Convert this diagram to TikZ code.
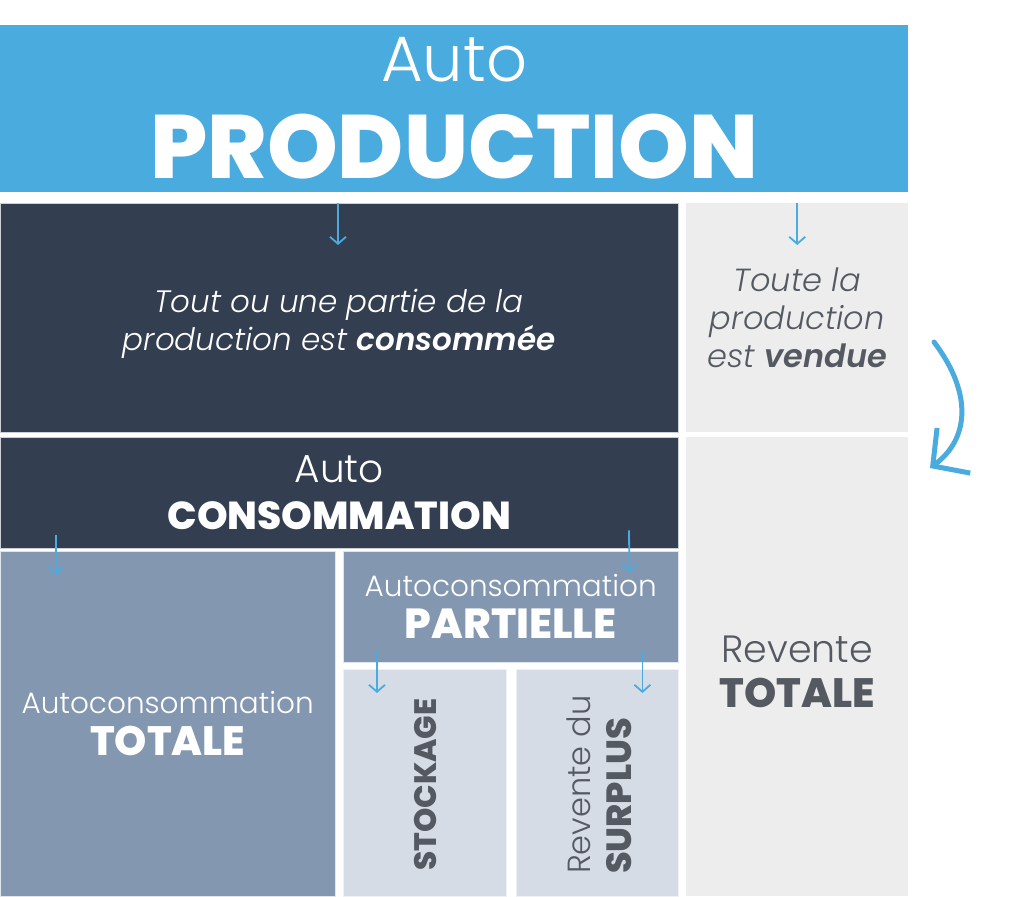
\documentclass[tikz,border=0pt]{standalone}
\usepackage{fontspec}
\setmainfont{Poppins}[UprightFont=* Light, ItalicFont=* Light Italic, BoldFont=* Bold, BoldItalicFont=* SemiBold Italic]
\newfontfamily\heavyfont{Poppins}[UprightFont=* ExtraBold]
\usepackage{tikz}
\usetikzlibrary{arrows.meta}
\usepackage{xcolor}
\definecolor{prodblue}{HTML}{4AABDF}
\definecolor{navy}{HTML}{333E50}
\definecolor{slate}{HTML}{8497B0}
\definecolor{paleslate}{HTML}{D6DCE5}
\definecolor{palegrey}{HTML}{EDEDED}
\definecolor{inkgrey}{HTML}{555961}

\begin{document}
\begin{tikzpicture}[
  x=1pt, y=-1pt,
  every node/.style={rectangle, inner sep=0pt, anchor=north west, align=center},
  bluebox/.style={fill=prodblue, text=white},
  navybox/.style={fill=navy, draw=white!75!navy, text=white},
  slatebox/.style={fill=slate, draw=white!75!slate, text=white},
  palebox/.style={fill=paleslate, draw=white!60!paleslate, text=inkgrey},
  greybox/.style={fill=palegrey, text=inkgrey},
  arrow/.style={-{Straight Barb[length=7pt, width=16pt]}, prodblue, line width=1.8pt},
  bigarrow/.style={-{Straight Barb[length=26pt, width=56pt]}, prodblue, line width=5pt, line cap=round}
]
\useasboundingbox (0,0) rectangle (1024,896);

% Top banner
\node[bluebox, minimum width=908pt, minimum height=167pt,
      font=\fontsize{64}{97}\selectfont] (prod) at (0,25)
  {Auto\\ \heavyfont\fontsize{90}{97}\selectfont PRODUCTION};

% Second row
\node[navybox, minimum width=678pt, minimum height=229pt,
      font=\fontsize{31}{38}\selectfont\itshape] (cons) at (0,203)
  {\rule{0pt}{36pt}Tout ou une partie de la\\ production est \textbf{consommée}};
\node[greybox, minimum width=222pt, minimum height=229pt,
      font=\fontsize{32}{38}\selectfont\itshape] (vend) at (686,203)
  {Toute la\\ production\\ est \textbf{vendue}};

% Third row
\node[navybox, minimum width=678pt, minimum height=111pt,
      font=\fontsize{39}{47}\selectfont] (autocons) at (0,437)
  {Auto\\ \heavyfont CONSOMMATION};
\node[greybox, minimum width=222pt, minimum height=459pt,
      font=\fontsize{38}{45}\selectfont] (revente) at (686,437)
  {\rule{0pt}{36pt}Revente\\ \heavyfont\fontsize{41}{45}\selectfont TOTALE};

% Fourth row
\node[slatebox, minimum width=335pt, minimum height=345pt,
      font=\fontsize{29.5}{42}\selectfont] (totale) at (0,551)
  {Autoconsommation\\ \heavyfont\fontsize{41}{42}\selectfont TOTALE};
\node[slatebox, minimum width=335pt, minimum height=111pt,
      font=\fontsize{29.5}{42}\selectfont] (partielle) at (343,551)
  {Autoconsommation\\ \heavyfont\fontsize{42}{42}\selectfont PARTIELLE};

% Bottom row
\node[palebox, minimum width=163pt, minimum height=227pt] (stockage) at (343,669) {};
\node[text=inkgrey, rotate=90, anchor=center, font=\heavyfont\fontsize{31}{31}\selectfont]
  (stocklabel) at ([xshift=1pt, yshift=-2pt]stockage.center) {STOCKAGE};
\node[palebox, minimum width=162pt, minimum height=227pt] (surplus) at (516,669) {};
\node[text=inkgrey, rotate=90, anchor=center, align=left, font=\fontsize{32}{41}\selectfont]
  (surpluslabel) at ([xshift=2pt, yshift=-2pt]surplus.center)
  {Revente du\\ \heavyfont\fontsize{35}{41}\selectfont SURPLUS};

% Small arrows
\draw[arrow] ([xshift=338pt]cons.north west) -- ++(0,42);
\draw[arrow] (vend.north) -- ++(0,42);
\draw[arrow] ([xshift=56pt, yshift=13pt]autocons.south west) -- ([xshift=56pt, yshift=-24pt]totale.north west);
\draw[arrow] ([xshift=629pt, yshift=18pt]autocons.south west) -- ([xshift=-49pt, yshift=-21pt]partielle.north east);
\draw[arrow] ([xshift=34pt, yshift=10pt]partielle.south west) -- ([xshift=34pt, yshift=-24pt]stockage.north west);
\draw[arrow] ([xshift=-36pt, yshift=10pt]partielle.south east) -- ([xshift=-36pt, yshift=-24pt]surplus.north east);

% Curved arrow from sold to resale
\coordinate (bendstart) at (934,342);
\coordinate (bendend) at (930,468);
\draw[bigarrow] (bendstart) .. controls (974,395) and (968,440) .. (bendend);

\end{tikzpicture}
\end{document}
